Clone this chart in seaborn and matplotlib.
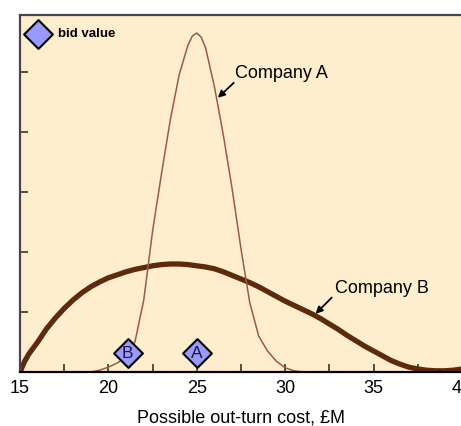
import numpy as np
import pandas as pd
import matplotlib
matplotlib.use('Agg')
import matplotlib.pyplot as plt
import seaborn as sns

# Company A: narrow distribution
cost_a = [19.0, 19.5, 20.0, 20.5, 21.0, 21.5, 22.0, 22.5, 23.0, 23.5, 24.0, 24.5,
          24.75, 25.0, 25.25, 25.5, 26.0, 26.5, 27.0, 27.5, 28.0, 28.5, 29.0,
          29.5, 30.0, 30.5, 31.0]
prob_a = [0.0, 0.03, 0.08, 0.15, 0.25, 0.5, 1.2, 2.35, 3.3, 4.2, 4.95, 5.45,
          5.6, 5.65, 5.58, 5.4, 4.75, 3.95, 3.05, 2.05, 1.15, 0.6, 0.35,
          0.18, 0.07, 0.02, 0.0]

# Company B: wide, skewed distribution
cost_b = [15.0, 15.25, 15.5, 16.0, 16.5, 17.0, 17.5, 18.0, 18.5, 19.0, 19.5, 20.0, 20.5,
          21.0, 21.5, 22.0, 22.5, 23.0, 23.5, 24.0, 24.5, 25.0, 25.5, 26.0, 26.5,
          27.0, 27.5, 28.0, 28.5, 29.0, 29.5, 30.0, 30.5, 31.0, 31.5, 32.0, 32.5,
          33.0, 33.5, 34.0, 34.5, 35.0, 35.5, 36.0, 36.5, 37.0, 37.5, 38.0, 38.5,
          39.0, 39.5, 40.0]
prob_b = [0.0, 0.17, 0.3, 0.5, 0.72, 0.9, 1.06, 1.2, 1.32, 1.42, 1.5, 1.57, 1.62,
          1.67, 1.71, 1.74, 1.77, 1.79, 1.8, 1.8, 1.79, 1.77, 1.75, 1.72, 1.67,
          1.61, 1.55, 1.49, 1.42, 1.34, 1.26, 1.18, 1.11, 1.04, 0.97, 0.89, 0.8,
          0.71, 0.61, 0.52, 0.43, 0.35, 0.27, 0.19, 0.13, 0.08, 0.05, 0.03, 0.02,
          0.02, 0.03, 0.05]

# bid values
bid_labels = ["B", "A"]
bid_cost = [21.1, 25.0]
bid_level = [0.32, 0.32]

plt.rcParams["font.family"] = ["Liberation Sans", "DejaVu Sans"]

fig = plt.figure(figsize=(4.61, 4.26), dpi=100)
ax = fig.add_axes([20 / 461, 54 / 426, 442 / 461, 357 / 426])
ax.set_facecolor("#FFEECE")

sns.lineplot(x=cost_b, y=prob_b, color="#5E2A0C", linewidth=3.8, ax=ax,
             solid_joinstyle="round", solid_capstyle="round")
sns.lineplot(x=cost_a, y=prob_a, color="#9C5B3E", linewidth=1.1, ax=ax,
             solid_joinstyle="round")

bids = pd.DataFrame({"cost": bid_cost, "level": bid_level, "label": bid_labels})
sns.scatterplot(data=bids, x="cost", y="level", marker="D", s=215,
                color="#9999FF", edgecolor="black", linewidth=1.5, zorder=5, ax=ax)
for _, r in bids.iterrows():
    ax.text(r["cost"], r["level"] - 0.01, r["label"], ha="center", va="center",
            fontsize=12.5, color="#1a1a3a", zorder=6)

# legend-like key in the corner
ax.scatter([16.02], [5.63], marker="D", s=215, color="#9999FF",
           edgecolor="black", linewidth=1.5, zorder=5, clip_on=False)
ax.text(17.15, 5.63, "bid value", fontsize=9.5, fontweight="bold",
        ha="left", va="center")

arrow = dict(arrowstyle="-|>", color="black", lw=1.3, mutation_scale=10,
             shrinkA=0, shrinkB=0)
ax.text(27.15, 4.97, "Company A", fontsize=13, ha="left", va="center")
ax.annotate("", xy=(26.19, 4.57), xytext=(27.09, 4.82), arrowprops=arrow)
ax.text(32.8, 1.39, "Company B", fontsize=13, ha="left", va="center")
ax.annotate("", xy=(31.72, 0.97), xytext=(32.63, 1.24), arrowprops=arrow)

ax.set_xlim(15, 40)
ax.set_ylim(0, 5.95)
ax.set_xticks([15, 20, 25, 30, 35, 40])
ax.set_xticks([17.5, 22.5, 27.5, 32.5, 37.5], minor=True)
ax.set_yticks([1, 2, 3, 4, 5])
ax.set_yticklabels([])
ax.tick_params(axis="both", which="both", direction="in", length=6,
               width=1.2, color="#333333", labelsize=13, pad=6)
ax.set_xlabel("Possible out-turn cost, £M", fontsize=13, labelpad=9)
ax.set_ylabel("")

for side in ["left", "top"]:
    ax.spines[side].set_color("#4a4452")
    ax.spines[side].set_linewidth(1.6)
ax.spines["bottom"].set_color("black")
ax.spines["bottom"].set_linewidth(1.6)
ax.spines["right"].set_visible(False)

fig.savefig("out.png", dpi=100)
